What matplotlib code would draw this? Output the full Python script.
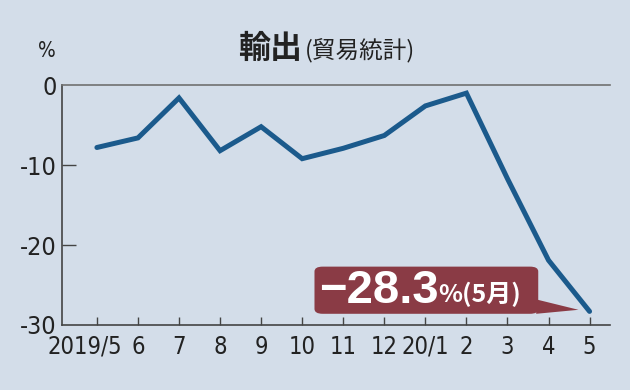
import matplotlib
matplotlib.use('Agg')
import matplotlib.pyplot as plt
import matplotlib.transforms as mtransforms
from matplotlib.patches import FancyBboxPatch, Polygon

plt.rcParams['font.family'] = ['DejaVu Sans']
plt.rcParams['font.stretch'] = 'condensed'

months = ['2019/5', '6', '7', '8', '9', '10', '11', '12', '20/1', '2', '3', '4', '5']
exports = [-7.8, -6.6, -1.6, -8.2, -5.2, -9.2, -7.9, -6.3, -2.6, -1.0, -11.7, -21.9, -28.3]
yticks = [0, -10, -20, -30]

bg = '#d3dde9'
fig = plt.figure(figsize=(6.3, 3.9), dpi=100, facecolor=bg)
ax = fig.add_axes([0.0984, 0.1667, 0.870, 0.615], facecolor=bg)

x = list(range(len(months)))
ax.plot(x, exports, color='#1b5a8c', lw=3.6, solid_joinstyle='miter', solid_capstyle='round', zorder=3)

ax.set_xlim(-0.85, 12.5)
ax.set_ylim(-30, 0)
ax.set_xticks(x)
ax.set_xticklabels(months)
ax.set_yticks(yticks)
ax.set_yticklabels([str(v) for v in yticks])

ax.spines['right'].set_visible(False)
ax.spines['top'].set_color('#707070')
ax.spines['top'].set_linewidth(1.2)
ax.spines['left'].set_color('#444444')
ax.spines['bottom'].set_color('#444444')
ax.spines['left'].set_linewidth(1.2)
ax.spines['bottom'].set_linewidth(1.2)

ax.tick_params(axis='y', direction='in', length=10, width=1, colors='#444444',
               labelcolor='#222222', labelsize=18, pad=4)
ax.tick_params(axis='x', direction='in', length=6, width=1, colors='#444444',
               labelcolor='#222222', labelsize=17, pad=7)
# no tick marks where the y ticks meet the frame lines
ax.yaxis.get_major_ticks()[0].tick1line.set_visible(False)
ax.yaxis.get_major_ticks()[-1].tick1line.set_visible(False)

# the first month label sits a little left of its tick, as in the print original
first = ax.get_xticklabels()[0]
first.set_transform(first.get_transform() + mtransforms.ScaledTranslation(-9 / 72, 0, fig.dpi_scale_trans))

# title
fig.text(0.378, 0.875, '輸出', fontsize=23, fontweight='bold', family=['Noto Sans CJK JP'],
         color='#222222', ha='left', va='center')
fig.text(0.484, 0.870, '(貿易統計)', fontsize=17, family=['Noto Sans CJK JP'],
         color='#222222', ha='left', va='center')
fig.text(0.075, 0.87, '%', fontsize=15, color='#222222', ha='center', va='center')

# callout box for the latest value
last = len(exports) - 1
box_col = '#8a3b45'
box = FancyBboxPatch((5.3, -28.6), 5.45, 5.9, boxstyle='round,pad=0,rounding_size=0.2',
                     mutation_aspect=3, fc=box_col, ec='none', zorder=4)
ax.add_patch(box)
ax.add_patch(Polygon([(10.7, -26.8), (10.7, -28.6), (last - 0.27, -28.1)],
                     closed=True, fc=box_col, ec='none', zorder=4))
t1 = ax.text(5.4, -25.7, '−28.3', fontsize=34, fontweight='bold', color='white',
             family=['Liberation Sans'], stretch='normal', ha='left', va='center', zorder=5)
ax.annotate('%(5月)', xy=(1, 0.12), xycoords=t1, fontsize=18, fontweight='bold', color='white',
            family=['Noto Sans CJK JP', 'DejaVu Sans'], ha='left', va='bottom', zorder=5)

fig.savefig('out.png', dpi=100, facecolor=bg)
